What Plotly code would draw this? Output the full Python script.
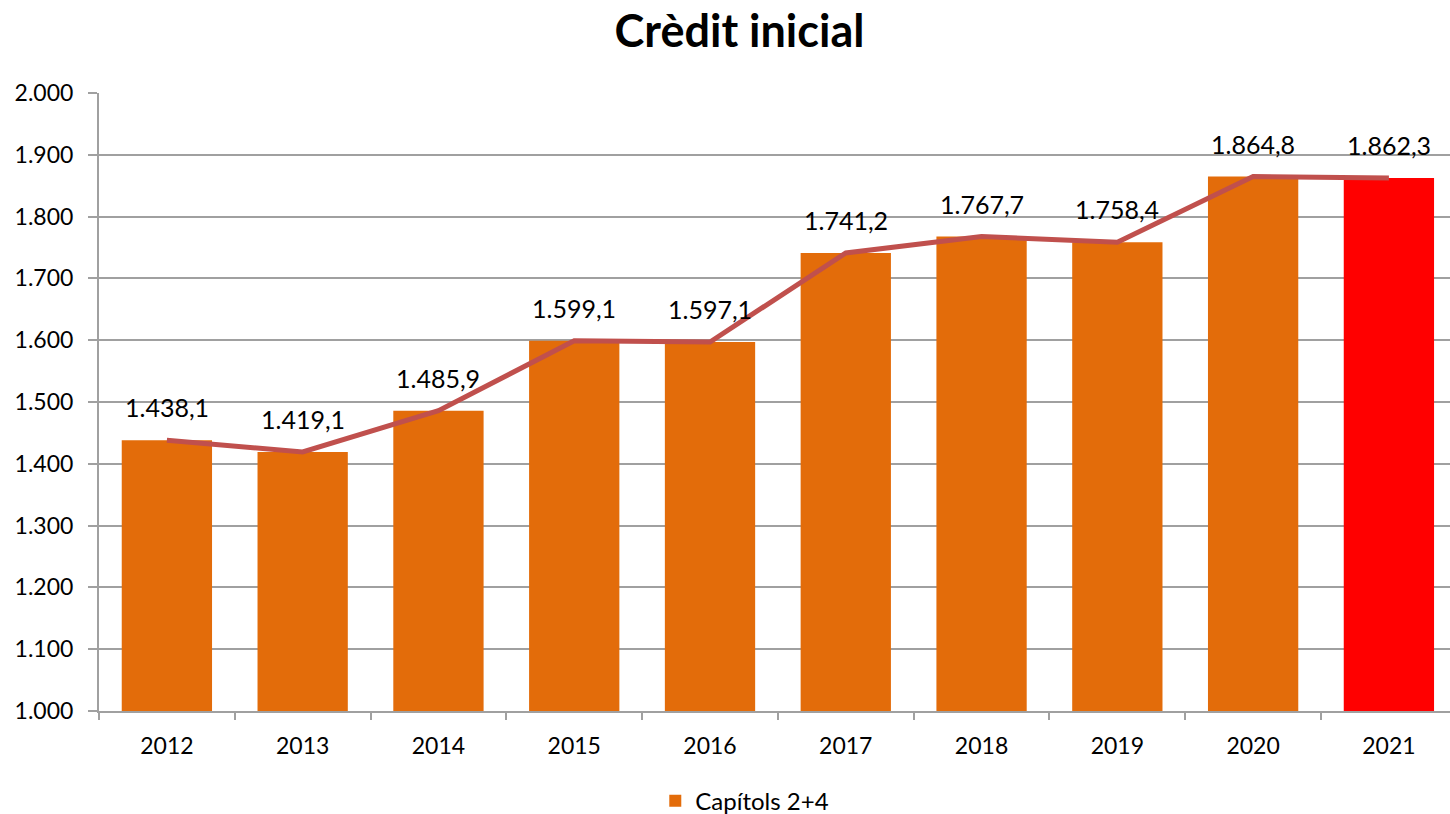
import plotly.graph_objects as go

years = ["2012", "2013", "2014", "2015", "2016", "2017", "2018", "2019", "2020", "2021"]
values = [1438.1, 1419.1, 1485.9, 1599.1, 1597.1, 1741.2, 1767.7, 1758.4, 1864.8, 1862.3]
bar_colors = ["#E36C0A"] * 9 + ["#FF0000"]
series_name = "Capítols 2+4"
title_text = "Crèdit inicial"

def fmt(v):
    s = f"{v:,.1f}"
    return s.replace(",", "X").replace(".", ",").replace("X", ".")

FONT = "Lato, Carlito, Calibri, sans-serif"

fig = go.Figure()
fig.add_trace(go.Bar(
    x=years, y=values, name=series_name,
    marker=dict(color=bar_colors, line=dict(width=0)),
    width=0.665, showlegend=True,
))
fig.add_trace(go.Scatter(
    x=years, y=values, mode="lines",
    line=dict(color="#C0504D", width=5),
    showlegend=False, hoverinfo="skip",
))
for i, v in enumerate(values):
    fig.add_annotation(x=i, y=v, xref="x", yref="y", text=fmt(v), showarrow=False,
                       yshift=33, font=dict(size=25, color="#000000", family=FONT))

fig.update_layout(
    width=1450, height=814,
    margin=dict(l=99, r=0, t=93, b=103, autoexpand=False),
    paper_bgcolor="white", plot_bgcolor="white",
    separators=",.",
    title=dict(text=f"<b>{title_text}</b>", x=0.51, xref="container", xanchor="center",
               y=0.961, yref="container", yanchor="middle",
               font=dict(size=45, color="#000000", family=FONT)),
    font=dict(family=FONT, color="#000000", size=22),
    legend=dict(orientation="h", x=0.478, xanchor="center", y=-0.146, yanchor="middle",
                font=dict(size=24, family=FONT), itemwidth=30),
    xaxis=dict(type="category", range=[-0.5, 9.45], showgrid=False, showline=True,
               linecolor="#A0A0A0", linewidth=2,
               ticks="outside", tickson="boundaries", ticklen=7, tickcolor="#A0A0A0", tickwidth=2,
               tickfont=dict(size=23, family=FONT), ticklabelstandoff=13),
    yaxis=dict(range=[1000, 2000], dtick=100, tickformat=",d", showgrid=True,
               gridcolor="#A0A0A0", gridwidth=2, showline=True, linecolor="#A0A0A0", linewidth=2,
               ticks="outside", ticklen=9, tickcolor="#A0A0A0", tickwidth=2,
               tickfont=dict(size=23, family=FONT), zeroline=False, ticklabelstandoff=10),
)

fig.write_html("out.html", config={"displayModeBar": False},
               post_script="document.body.style.margin='0';document.body.style.padding='0';")
